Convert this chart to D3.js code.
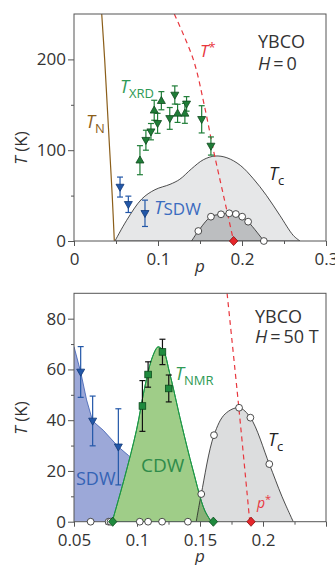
<!DOCTYPE html>
<html>
<head>
<meta charset="utf-8">
<script src="https://cdn.jsdelivr.net/npm/d3@7/dist/d3.min.js"></script>
<style>
  body { margin: 0; background: #fff; }
  svg { display: block; font-family: "Open Sans", sans-serif; }
</style>
</head>
<body>
<svg id="chart" width="335" height="565"></svg>
<script>
// ---------- top panel: YBCO, H = 0 ----------
const topXTicks = [0, 0.1, 0.2, 0.3]
const topXLabels = ["0", "0.1", "0.2", "0.3"]
const topXMinor = [0.05, 0.15, 0.25]
const topYTicks = [0, 100, 200]
const topYMinor = [50, 150]

// [p, T]
const tnLine = [[0.033, 250], [0.0365, 200], [0.0395, 150], [0.0425, 100], [0.0455, 50], [0.048, 0]]
const tStarTop = [[0.1194, 250], [0.142, 200], [0.155, 150], [0.166, 100], [0.178, 50], [0.19, 0]]
const tcOuter = [[0.0488, 0], [0.0627, 22.8], [0.0806, 46.2], [0.0964, 56.5], [0.1143, 62.4], [0.126, 68],
  [0.14, 79.6], [0.154, 89.5], [0.168, 93.6], [0.182, 91.7], [0.198, 83.3], [0.2135, 68.6],
  [0.229, 50.3], [0.245, 28.3], [0.261, 6.2], [0.269, 0]]
const tcInner = [[0.140, 0], [0.148, 11], [0.163, 26.8], [0.175, 29.4], [0.1848, 30.5], [0.1927, 29.7],
  [0.2002, 26.8], [0.2073, 21.3], [0.226, 0]]
const tcInnerPts = [[0.148, 11], [0.163, 26.8], [0.175, 29.4], [0.1848, 30.5], [0.1927, 29.7],
  [0.2002, 26.8], [0.2073, 21.3], [0.226, 0]]

// [p, T, error]
const xrdUp = [[0.0785, 89, 16], [0.0955, 144, 11], [0.104, 154.5, 10], [0.1233, 140.6, 10], [0.132, 140.6, 11]]
const xrdDown = [[0.0856, 111, 11], [0.0916, 120.4, 9], [0.0995, 129.6, 11], [0.114, 135, 12],
  [0.120, 160.8, 10], [0.134, 151, 8], [0.152, 134, 15], [0.163, 104.6, 10]]
const sdwTop = [[0.0548, 59.4, 11], [0.0647, 40.4, 9], [0.0845, 30.5, 14.5]]
const pStarTop = [0.19]

// ---------- bottom panel: YBCO, H = 50 T ----------
const botXTicks = [0.05, 0.1, 0.15, 0.2, 0.25]
const botXLabels = ["0.05", "0.1", "0.15", "0.2", ""]
const botXMinor = [0.075, 0.125, 0.175, 0.225]
const botYTicks = [0, 20, 40, 60, 80]
const botYMinor = [10, 30, 50, 70]

const sdwEdge = [[0.05, 69], [0.0553, 59], [0.06, 48], [0.0648, 39.7], [0.0733, 36], [0.0852, 29.5], [0.0935, 26]]
const sdwUnder = [[0.1, 26], [0.1, 0], [0.05, 0]]   // hidden under the CDW dome
const cdwRegion = [[0.0803, 0], [0.0903, 17.7], [0.0996, 36.1], [0.1062, 53.1], [0.1114, 63.7], [0.1154, 68.3],
  [0.1167, 68.9], [0.1207, 67.6], [0.126, 58.4], [0.1352, 38.7], [0.1444, 20.4], [0.1536, 4.6], [0.159, 0]]
const tcBottom = [[0.147, 0], [0.151, 10.9], [0.1611, 34.1], [0.170, 42.5], [0.181, 44.9], [0.19, 41],
  [0.205, 22.7], [0.215, 10], [0.224, 0]]
const tcBottomPts = [[0.151, 10.9], [0.1611, 34.1], [0.181, 44.9], [0.19, 41], [0.205, 22.7]]
const tStarBottom = [[0.1715, 90], [0.1808, 45], [0.1895, 0]]
const nmr = [[0.1043, 45.6, 10], [0.1088, 58, 5], [0.1202, 66.9, 5], [0.1252, 52.5, 5.3]]
const sdwBottom = [[0.0553, 59, 10], [0.0648, 39.7, 9.8], [0.0852, 29.5, 15]]
const zeroCircles = [0.0632, 0.0775, 0.079, 0.1022, 0.1088, 0.1199, 0.1404]
const cdwOnset = [0.0807, 0.1606]
const pStarBottom = [0.1905]

const svg = d3.select("#chart")
const defs = svg.append("defs")

const C = {
  frame: "#555", tick: "#333", tn: "#8b5e1a", red: "#e8373e",
  lightGray: "#e6e7e8", darkGray: "#bcbec0", gray2: "#dcddde",
  green: "#1f7d37", greenDark: "#0f4a1e", greenText: "#2f9a55",
  blue: "#2257a8", blueDark: "#123a78", blueText: "#3b6cc0",
  blueFill: "#9ca8d8", cdwFill: "#9fcd88", cdwLine: "#1a9645"
}

function makePanel(name, xDomain, yDomain, yRange) {
  const x = d3.scaleLinear().domain(xDomain).range([74, 326])
  const y = d3.scaleLinear().domain(yDomain).range(yRange)
  defs.append("clipPath").attr("id", "clip-" + name)
    .append("rect")
    .attr("x", 74).attr("y", yRange[1])
    .attr("width", 252).attr("height", yRange[0] - yRange[1])
  const g = svg.append("g")
  const plot = g.append("g").attr("clip-path", `url(#clip-${name})`)
  return { x, y, g, plot }
}

function drawAxes(P, xTicks, xLabels, xMinor, yTicks, yMinor) {
  const { x, y, g } = P
  const [yb, yt] = y.range()

  const ax = g.append("g").attr("class", "axes")
  ax.append("g").attr("transform", `translate(0,${yb})`)
    .call(d3.axisBottom(x).tickValues(xMinor).tickSize(3).tickFormat(""))
  ax.append("g").attr("transform", `translate(0,${yb})`)
    .call(d3.axisBottom(x).tickValues(xTicks).tickSize(5).tickPadding(7).tickFormat((d, i) => xLabels[i]))
  ax.append("g").attr("transform", "translate(74,0)")
    .call(d3.axisLeft(y).tickValues(yMinor).tickSize(3).tickFormat(""))
  ax.append("g").attr("transform", "translate(74,0)")
    .call(d3.axisLeft(y).tickValues(yTicks).tickSize(6).tickPadding(2))

  ax.selectAll(".domain").remove()
  ax.selectAll(".tick line").attr("stroke", C.frame).attr("stroke-width", 1)
  ax.selectAll("g").attr("font-family", null).attr("font-size", null)
  ax.selectAll(".tick text").attr("font-size", 17).attr("fill", C.tick)

  ax.append("rect")
    .attr("x", 74).attr("y", yt)
    .attr("width", 252).attr("height", yb - yt)
    .attr("fill", "none").attr("stroke", C.frame).attr("stroke-width", 1)
}

// text with optional italic main letter and sub/superscripts
function label(g, x, y, parts, fill) {
  const t = g.append("text").attr("x", x).attr("y", y).attr("fill", fill)
  parts.forEach(p => {
    t.append("tspan")
      .attr("font-size", p.size)
      .attr("font-style", p.italic ? "italic" : null)
      .attr("dy", p.dy || 0)
      .text(p.t)
  })
  return t
}

function errorBars(g, P, data, color) {
  const { x, y } = P
  const eb = g.append("g").attr("stroke", color).attr("stroke-width", 1.2)
  data.forEach(d => {
    const px = x(d[0]), y1 = y(d[1] + d[2]), y2 = y(d[1] - d[2])
    eb.append("line").attr("x1", px).attr("x2", px).attr("y1", y1).attr("y2", y2)
    eb.append("line").attr("x1", px - 3).attr("x2", px + 3).attr("y1", y1).attr("y2", y1)
    eb.append("line").attr("x1", px - 3).attr("x2", px + 3).attr("y1", y2).attr("y2", y2)
  })
}

const triUp = "M0,-4.2L4,2.8L-4,2.8Z"
const triDown = "M0,4.2L4,-2.8L-4,-2.8Z"
const diamond = "M0,-4.6L4.2,0L0,4.6L-4.2,0Z"

function markers(g, P, data, path, fill, stroke) {
  g.append("g").selectAll("path").data(data).enter().append("path")
    .attr("d", path)
    .attr("transform", d => `translate(${P.x(d[0])},${P.y(d[1])})`)
    .attr("fill", fill).attr("stroke", stroke).attr("stroke-width", 0.8)
}

function circles(g, P, data) {
  g.append("g").selectAll("circle").data(data).enter().append("circle")
    .attr("cx", d => P.x(d[0])).attr("cy", d => P.y(d[1])).attr("r", 3.4)
    .attr("fill", "#fff").attr("stroke", "#222").attr("stroke-width", 0.8)
}

function axisTitles(yMid, pBaseline) {
  label(svg, 0, 0, [{ t: "T", italic: true, size: 17 }, { t: " (K)", size: 17 }], C.tick)
    .attr("x", null).attr("y", null)
    .attr("text-anchor", "middle")
    .attr("transform", `translate(27,${yMid}) rotate(-90)`)
  label(svg, 200, pBaseline, [{ t: "p", italic: true, size: 17 }], C.tick).attr("text-anchor", "middle")
}

// ================= TOP =================
const T = makePanel("top", [0, 0.3], [0, 250], [241, 14])
const curve = d3.line().x(d => T.x(d[0])).y(d => T.y(d[1])).curve(d3.curveCatmullRom)

T.plot.append("path").attr("d", curve(tcOuter) + "Z")
  .attr("fill", C.lightGray).attr("stroke", "#222").attr("stroke-width", 0.8)
T.plot.append("path").attr("d", curve(tcInner) + "Z")
  .attr("fill", C.darkGray).attr("stroke", "#222").attr("stroke-width", 0.8)

drawAxes(T, topXTicks, topXLabels, topXMinor, topYTicks, topYMinor)

T.plot.append("path").attr("d", curve(tnLine))
  .attr("fill", "none").attr("stroke", C.tn).attr("stroke-width", 1.2)
T.plot.append("path").attr("d", curve(tStarTop))
  .attr("fill", "none").attr("stroke", C.red).attr("stroke-width", 1.2).attr("stroke-dasharray", "5,4")

errorBars(T.g, T, xrdUp.concat(xrdDown), C.green)
errorBars(T.g, T, sdwTop, C.blue)
markers(T.g, T, xrdUp, triUp, C.green, C.greenDark)
markers(T.g, T, xrdDown, triDown, C.green, C.greenDark)
markers(T.g, T, sdwTop, triDown, C.blue, C.blueDark)
circles(T.g, T, tcInnerPts)
markers(T.g, T, pStarTop.map(p => [p, 0]), diamond, "#e5262b", "#8a1010")

label(T.g, 258, 48, [{ t: "YBCO", size: 18 }], C.tick)
label(T.g, 258, 70, [{ t: "H", italic: true, size: 18 }, { t: "\u2009=\u20090", size: 18 }], C.tick)
label(T.g, 86, 128, [{ t: "T", italic: true, size: 18 }, { t: "N", size: 13, dy: 5 }], C.tn)
label(T.g, 120, 93, [{ t: "T", italic: true, size: 18 }, { t: "XRD", size: 13, dy: 5 }], C.greenText)
label(T.g, 200, 57, [{ t: "T", italic: true, size: 17 }, { t: "*", size: 13, dy: -5 }], C.red)
label(T.g, 269, 180, [{ t: "T", italic: true, size: 18 }, { t: "c", size: 13, dy: 5 }], "#222")
label(T.g, 154, 214, [{ t: "T", italic: true, size: 19 }, { t: "SDW", size: 17, dy: 1 }], C.blueText)

axisTitles(148, 272)

// ================= BOTTOM =================
const B = makePanel("bot", [0.05, 0.25], [0, 90], [521.7, 293.3])
const lineB = d3.line().x(d => B.x(d[0])).y(d => B.y(d[1]))
const curveB = d3.line().x(d => B.x(d[0])).y(d => B.y(d[1])).curve(d3.curveCatmullRom)

B.plot.append("path").attr("d", lineB(sdwEdge.concat(sdwUnder)) + "Z").attr("fill", C.blueFill)
B.plot.append("path").attr("d", lineB(sdwEdge))
  .attr("fill", "none").attr("stroke", "#3a5cb0").attr("stroke-width", 0.8)
B.plot.append("path").attr("d", curveB(cdwRegion) + "Z")
  .attr("fill", C.cdwFill).attr("stroke", C.cdwLine).attr("stroke-width", 1)
B.plot.append("path").attr("d", curveB(tcBottom) + "Z")
  .attr("fill", C.gray2).style("mix-blend-mode", "multiply")
B.plot.append("path").attr("d", curveB(tcBottom))
  .attr("fill", "none").attr("stroke", "#222").attr("stroke-width", 0.8)
B.plot.append("path").attr("d", curveB(cdwRegion))
  .attr("fill", "none").attr("stroke", C.cdwLine).attr("stroke-width", 1)

drawAxes(B, botXTicks, botXLabels, botXMinor, botYTicks, botYMinor)

B.plot.append("path").attr("d", curveB(tStarBottom))
  .attr("fill", "none").attr("stroke", C.red).attr("stroke-width", 1.2).attr("stroke-dasharray", "5,4")

errorBars(B.g, B, sdwBottom, C.blue)
errorBars(B.g, B, nmr, "#111")
markers(B.g, B, sdwBottom, triDown, C.blue, C.blueDark)
B.g.append("g").selectAll("rect").data(nmr).enter().append("rect")
  .attr("x", d => B.x(d[0]) - 3.3).attr("y", d => B.y(d[1]) - 3.3)
  .attr("width", 6.6).attr("height", 6.6)
  .attr("fill", "#1f8a3e").attr("stroke", "#0a4a1a").attr("stroke-width", 0.8)
circles(B.g, B, tcBottomPts)
circles(B.g, B, zeroCircles.map(p => [p, 0]))
markers(B.g, B, cdwOnset.map(p => [p, 0]), diamond, "#1f8a3e", "#0a4a1a")
markers(B.g, B, pStarBottom.map(p => [p, 0]), diamond, "#e5262b", "#8a1010")

label(B.g, 255, 323, [{ t: "YBCO", size: 18 }], C.tick)
label(B.g, 255, 343, [{ t: "H", italic: true, size: 18 }, { t: "\u2009=\u200950 T", size: 18 }], C.tick)
label(B.g, 175, 380, [{ t: "T", italic: true, size: 18 }, { t: "NMR", size: 13, dy: 5 }], C.greenText)
label(B.g, 141, 472, [{ t: "CDW", size: 19 }], "#2e8b4a")
label(B.g, 76, 485, [{ t: "SDW", size: 18 }], "#3463b5")
label(B.g, 268, 446, [{ t: "T", italic: true, size: 18 }, { t: "c", size: 13, dy: 5 }], "#222")
label(B.g, 257, 508, [{ t: "p", italic: true, size: 14 }, { t: "*", size: 11, dy: -5 }], C.red)

axisTitles(418, 562)
</script>
</body>
</html>
